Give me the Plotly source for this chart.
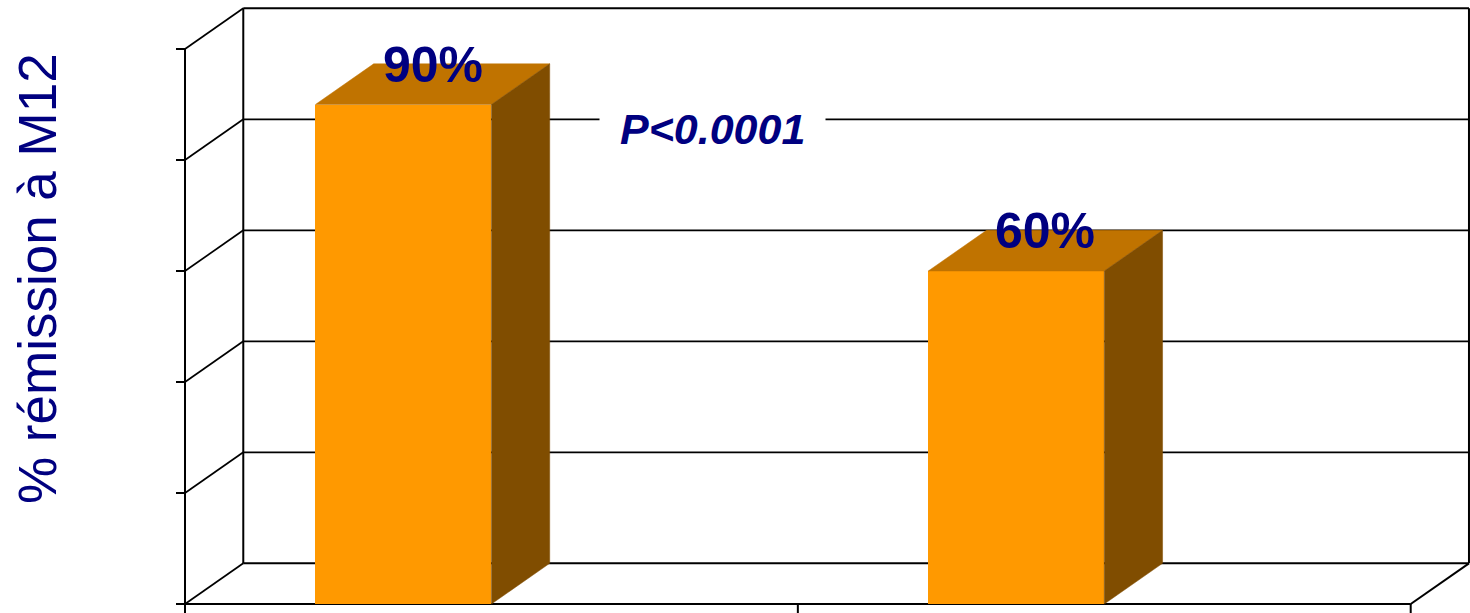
import plotly.graph_objects as go

# Remission rates at month 12 for the two groups
positions = [1, 2]
values = [90, 60]
y_ticks = [0, 20, 40, 60, 80, 100]
p_text = "P&lt;0.0001"
axis_title = "% rémission à M12"

# Pseudo-3D geometry (data units)
BAR_W = 0.2872          # width of the front face
DX = 0.0951             # depth offset along x
DY = 7.33               # depth offset along y
X_LO, X_HI = 0.5, 2.5   # front floor extent
TICK_LEN_X = 9 / 612.85
TICK_LEN_Y = 9 / 5.55

FRONT = "#FF9900"
TOP = "#C07300"
SIDE = "#804D00"
NAVY = "#000080"
FONT = "Arial, Liberation Sans, sans-serif"

fig = go.Figure()

# Front faces
fig.add_trace(go.Bar(
    x=positions, y=values, width=BAR_W, offset=-BAR_W,
    marker=dict(color=FRONT, line=dict(width=0)),
    hoverinfo="skip", showlegend=False,
))

# Top and side faces
for pos, v in zip(positions, values):
    x0, x1 = pos - BAR_W, pos
    fig.add_trace(go.Scatter(
        x=[x0, x1, x1 + DX, x0 + DX, x0],
        y=[v, v, v + DY, v + DY, v],
        fill="toself", fillcolor=TOP, mode="lines",
        line=dict(color=TOP, width=0.5),
        hoverinfo="skip", showlegend=False,
    ))
    fig.add_trace(go.Scatter(
        x=[x1, x1, x1 + DX, x1 + DX, x1],
        y=[0, v, v + DY, DY, 0],
        fill="toself", fillcolor=SIDE, mode="lines",
        line=dict(color=SIDE, width=0.5),
        hoverinfo="skip", showlegend=False,
    ))

shapes = []


def seg(xa, ya, xb, yb, w=2):
    shapes.append(dict(type="line", xref="x", yref="y", x0=xa, y0=ya,
                       x1=xb, y1=yb, layer="below",
                       line=dict(color="black", width=w)))


top = y_ticks[-1]
# Back wall
seg(X_LO + DX, DY, X_LO + DX, top + DY)
seg(X_HI + DX, DY, X_HI + DX, top + DY)
for t in y_ticks:
    seg(X_LO + DX, t + DY, X_HI + DX, t + DY, 2 if t in (0, top) else 1.7)
# Left wall and value axis
seg(X_LO, -5, X_LO, top)
for t in y_ticks:
    seg(X_LO, t, X_LO + DX, t + DY, 1.7)
    seg(X_LO - TICK_LEN_X, t, X_LO, t)
# Floor
seg(X_LO, 0, X_HI, 0)
seg(X_HI, 0, X_HI + DX, DY)
for xc in [X_LO, (X_LO + X_HI) / 2, X_HI]:
    seg(xc, 0, xc, -TICK_LEN_Y)

annotations = []
for pos, v in zip(positions, values):
    annotations.append(dict(
        x=pos - BAR_W / 2 + DX / 2, y=v + DY, xref="x", yref="y",
        text=f"<b>{v}%</b>", showarrow=False,
        font=dict(family=FONT, size=50, color=NAVY),
        xanchor="center", yanchor="middle", yshift=-1,
    ))

annotations.append(dict(
    x=1.3611, y=85.5, xref="x", yref="y",
    text=f"<b><i>{p_text}</i></b>", showarrow=False,
    font=dict(family=FONT, size=43, color=NAVY),
    bgcolor="white", borderpad=20,
    xanchor="center", yanchor="middle",
))

annotations.append(dict(
    x=37 / 1470, y=1 - 279 / 613, xref="paper", yref="paper",
    text=axis_title, textangle=-90, showarrow=False,
    font=dict(family=FONT, size=53, color=NAVY),
    xanchor="center", yanchor="middle",
))

fig.update_layout(
    width=1470, height=613,
    margin=dict(l=0, r=0, t=0, b=0),
    paper_bgcolor="white", plot_bgcolor="white",
    xaxis=dict(range=[0.19813, 2.59676], visible=False, fixedrange=True),
    yaxis=dict(range=[-1.6216, 108.829], visible=False, fixedrange=True),
    shapes=shapes, annotations=annotations,
    bargap=0, showlegend=False,
)

fig.write_html("out.html")
